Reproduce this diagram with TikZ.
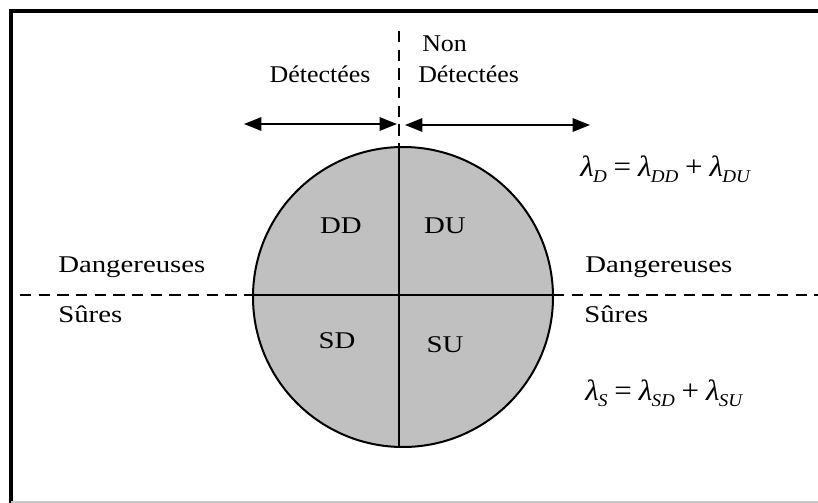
\documentclass[tikz,border=0pt]{standalone}
\usepackage{fontspec}
\usepackage{graphicx}
\setmainfont{Liberation Serif}
\usetikzlibrary{arrows.meta}
\definecolor{disc}{RGB}{192,192,192}
\newcommand\wide[1]{\scalebox{1.2}[1]{#1}}
\newcommand\widetop[1]{\scalebox{1.08}[1]{#1}}
\newcommand\lamsub[1]{\textit{λ}\kern-0.5pt\raisebox{-5pt}{\fontsize{13.5}{14}\selectfont\textit{#1}}}
\newcommand\eqsp{\hspace{0.22em}}
\begin{document}
\begin{tikzpicture}[x=0.75pt,y=-0.75pt,
  lbl/.style={font=\fontsize{18}{21}\selectfont, inner sep=0pt},
  frm/.style={line width=2.3pt},
  ln/.style={line width=1.5pt},
  dsh/.style={line width=1.5pt, dash pattern=on 8.5pt off 5.5pt},
  dart/.style={line width=1.5pt, {Triangle[length=13pt,width=10pt]}-{Triangle[length=13pt,width=10pt]}},
  eq/.style={font=\fontsize{22}{25}\selectfont, inner sep=0pt}]
\useasboundingbox (0,0) rectangle (818,503);
% frame
\coordinate (fBL) at (11,503);
\coordinate (fTL) at (11,11);
\coordinate (fTR) at (818,11);
\coordinate (gBL) at (11,502);
\coordinate (gBR) at (818,502);
\draw[frm] (fBL) -- (fTL) -- (fTR);
\draw[gray!45, line width=0.9pt] (gBL) -- (gBR);
% disc
\node (C) [circle, draw, fill=disc, line width=1.5pt, minimum size=225pt, inner sep=0pt] at (403,297) {};
\coordinate (vT) at (399,147);
\coordinate (vB) at (399,447);
\coordinate (vD) at (399,31);
\coordinate (hL) at (253,295);
\coordinate (hR) at (553,295);
\coordinate (hDL) at (20,295);
\coordinate (hDR) at (818,295);
\draw[ln] (vT) -- (vB);
\draw[ln] (hL) -- (hR);
\draw[dsh] (vD) -- (vT);
\draw[dsh] (hDL) -- (hL);
\draw[dsh] (hR) -- (hDR);
% arrows
\coordinate (a1) at (244,124);
\coordinate (a2) at (397,124);
\coordinate (a3) at (405,125);
\coordinate (a4) at (590,125);
\draw[dart] (a1) -- (a2);
\draw[dart] (a3) -- (a4);
% labels
\node (det) [lbl, anchor=base] at (320,83) {\widetop{Détectées}};
\node (non) [lbl, anchor=base west] at (422,52) {\widetop{Non}};
\node (ndet) [lbl, anchor=base west] at (418,83) {\widetop{Détectées}};
\node (dgL) [lbl, anchor=base west] at (58,272) {\wide{Dangereuses}};
\node (srL) [lbl, anchor=base west] at (58,322) {\wide{Sûres}};
\node (dgR) [lbl, anchor=base west] at (585,272) {\wide{Dangereuses}};
\node (srR) [lbl, anchor=base west] at (584,322) {\wide{Sûres}};
\node (DD) [lbl, anchor=base] at (341,233) {\wide{DD}};
\node (DU) [lbl, anchor=base] at (445,233) {\wide{DU}};
\node (SD) [lbl, anchor=base] at (337,348) {\wide{SD}};
\node (SU) [lbl, anchor=base] at (445,352) {\wide{SU}};
% formulas
\node (eqD) [eq, anchor=base west] at (580,176) {\scalebox{1.06}[1]{\lamsub{D}\eqsp{}=\eqsp{}\lamsub{DD}\eqsp{}+\eqsp{}\lamsub{DU}}};
\node (eqS) [eq, anchor=base west] at (585,400) {\scalebox{1.06}[1]{\lamsub{S}\eqsp{}=\eqsp{}\lamsub{SD}\eqsp{}+\eqsp{}\lamsub{SU}}};
\end{tikzpicture}
\end{document}
